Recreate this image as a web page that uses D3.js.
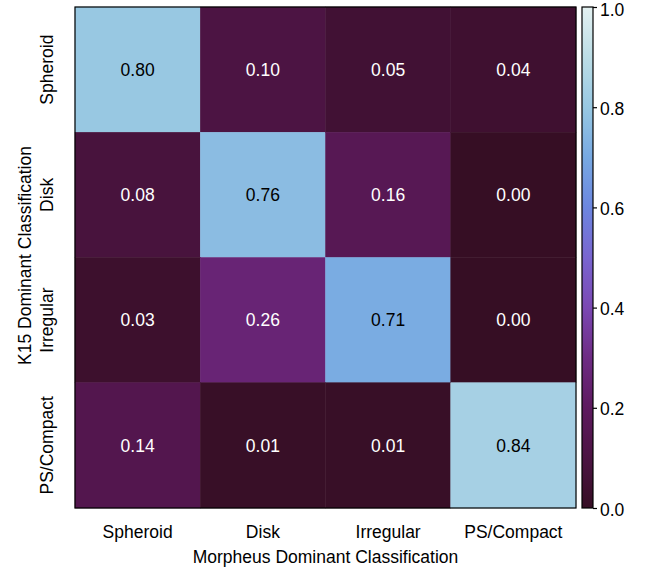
<!DOCTYPE html>
<html>
<head>
<meta charset="utf-8">
<script src="https://cdn.jsdelivr.net/npm/d3@7"></script>
<style>
  html, body { margin: 0; padding: 0; background: #fff; }
  svg text { font-family: "Liberation Sans", Arial, Helvetica, sans-serif; }
</style>
</head>
<body>
<svg id="chart" width="649" height="571"></svg>
<script>
const colLabels = ["Spheroid", "Disk", "Irregular", "PS/Compact"];
const rowLabels = ["Spheroid", "Disk", "Irregular", "PS/Compact"];
const rowSpheroid  = [0.80, 0.10, 0.05, 0.04];
const rowDisk      = [0.08, 0.76, 0.16, 0.00];
const rowIrregular = [0.03, 0.26, 0.71, 0.00];
const rowPSCompact = [0.14, 0.01, 0.01, 0.84];
const colorbarTicks = [0.0, 0.2, 0.4, 0.6, 0.8, 1.0];
const xTitle = "Morpheus Dominant Classification";
const yTitle = "K15 Dominant Classification";

// reversed "dense"-like colormap stops
const cmapStops = [0, 0.1, 0.2, 0.3, 0.4, 0.5, 0.6, 0.7, 0.8, 0.9, 1.0];
const cmapColors = ["#360e24", "#4c1443", "#5e1a5f", "#6e2b84", "#7b48b3", "#7965d0",
                    "#6c86df", "#77a9e2", "#98c8e2", "#bcdde6", "#e4f1f1"];

const FS = 17.5;
const matrix = [rowSpheroid, rowDisk, rowIrregular, rowPSCompact];
const cells = [];
matrix.forEach((row, i) => row.forEach((v, j) => cells.push({ r: rowLabels[i], c: colLabels[j], ri: i, ci: j, v })));

const svg = d3.select("#chart");
const pL = 75, pR = 576, pT = 7, pB = 508;

const x = d3.scaleBand().domain(d3.range(colLabels.length)).range([pL, pR]);
const y = d3.scaleBand().domain(d3.range(rowLabels.length)).range([pT, pB]);
const color = d3.scaleLinear().domain(cmapStops).range(cmapColors).interpolate(d3.interpolateRgb).clamp(true);

// cells
svg.append("g").selectAll("rect").data(cells).join("rect")
  .attr("x", d => x(d.ci)).attr("y", d => y(d.ri))
  .attr("width", x.bandwidth()).attr("height", y.bandwidth())
  .attr("fill", d => color(d.v))
  .attr("stroke", d => color(d.v)).attr("stroke-width", 0.5);

// cell text
svg.append("g").selectAll("text").data(cells).join("text")
  .attr("x", d => x(d.ci) + x.bandwidth() / 2)
  .attr("y", d => y(d.ri) + y.bandwidth() / 2)
  .attr("dy", "0.36em")
  .attr("text-anchor", "middle")
  .attr("font-size", FS)
  .attr("fill", d => d.v > 0.5 ? "#000" : "#fff")
  .text(d => d.v.toFixed(2));

// frame
svg.append("rect").attr("x", pL).attr("y", pT).attr("width", pR - pL).attr("height", pB - pT)
  .attr("fill", "none").attr("stroke", "#000").attr("stroke-width", 1.2);

// x tick labels
svg.append("g").selectAll("text").data(colLabels).join("text")
  .attr("x", (d, i) => x(i) + x.bandwidth() / 2)
  .attr("y", 538)
  .attr("text-anchor", "middle").attr("font-size", FS).attr("fill", "#000")
  .text(d => d);

// y tick labels (rotated)
svg.append("g").selectAll("text").data(rowLabels).join("text")
  .attr("transform", (d, i) => `translate(53,${y(i) + y.bandwidth() / 2}) rotate(-90)`)
  .attr("text-anchor", "middle").attr("font-size", FS).attr("fill", "#000")
  .text(d => d);

// axis titles
svg.append("text").attr("x", (pL + pR) / 2).attr("y", 562.5)
  .attr("text-anchor", "middle").attr("font-size", FS).text(xTitle);
svg.append("text").attr("transform", `translate(31,${(pT + pB) / 2 - 2}) rotate(-90)`)
  .attr("text-anchor", "middle").attr("font-size", FS).text(yTitle);

// colorbar
const cbX = 582, cbW = 11;
const cbScale = d3.scaleLinear().domain([0, 1]).range([pB, pT]);
const defs = svg.append("defs");
const grad = defs.append("linearGradient").attr("id", "cbgrad")
  .attr("x1", 0).attr("y1", 1).attr("x2", 0).attr("y2", 0);
grad.selectAll("stop").data(d3.range(0, 1.0001, 0.02)).join("stop")
  .attr("offset", d => d).attr("stop-color", d => color(d));
svg.append("rect").attr("x", cbX).attr("y", pT).attr("width", cbW).attr("height", pB - pT)
  .attr("fill", "url(#cbgrad)").attr("stroke", "#000").attr("stroke-width", 1.2);

const cbAxis = d3.axisRight(cbScale).tickValues(colorbarTicks).tickFormat(d3.format(".1f")).tickSize(4).tickPadding(3);
const ga = svg.append("g").attr("transform", `translate(${cbX + cbW},0)`).call(cbAxis);
ga.select(".domain").remove();
ga.selectAll(".tick line").attr("stroke", "#000").attr("stroke-width", 1.2);
ga.selectAll(".tick text").attr("font-size", FS).attr("fill", "#000")
  .attr("dy", d => d === 1 ? "0.5em" : "0.4em")
  .attr("font-family", "Liberation Sans, Arial, Helvetica, sans-serif");
</script>
</body>
</html>
